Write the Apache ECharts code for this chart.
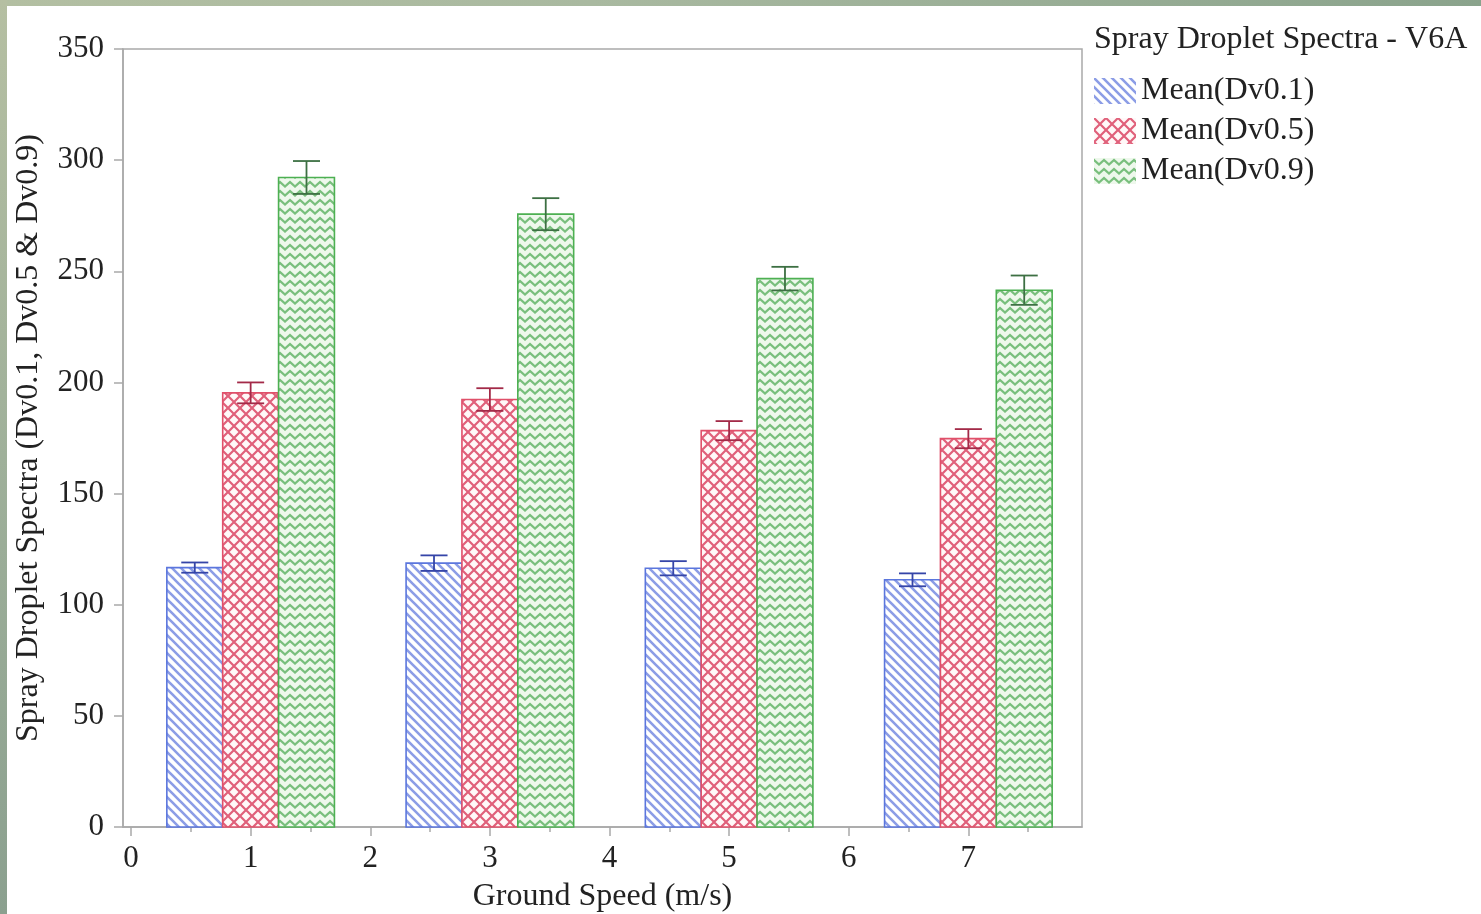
<!DOCTYPE html>
<html>
<head>
<meta charset="utf-8">
<script src="https://cdn.jsdelivr.net/npm/echarts@6/dist/echarts.min.js"></script>
<style>
html,body{margin:0;padding:0;width:1481px;height:914px;overflow:hidden;}
body{background:linear-gradient(90deg,#b3bfa2 0%,#a9b9a0 40%,#8aa38c 100%);}
#under{position:absolute;left:0;top:0;width:7px;height:914px;background:linear-gradient(180deg,#b5bfa2 0%,#9fb09a 50%,#8ba08f 100%);}
#paper{position:absolute;left:7px;top:6px;width:1474px;height:908px;background:#ffffff;}
#chart{position:absolute;left:0;top:0;width:1481px;height:914px;}
</style>
</head>
<body>
<div id="under"></div>
<div id="paper"></div>
<div id="chart"></div>
<script>
// ---- data ----
const speeds = [1, 3, 5, 7];
const seriesNames = ['Mean(Dv0.1)', 'Mean(Dv0.5)', 'Mean(Dv0.9)'];
const dv01 = [116.7, 118.7, 116.4, 111.2];
const dv05 = [195.3, 192.3, 178.3, 174.7];
const dv09 = [292.2, 275.7, 246.7, 241.5];
const dv01Err = [2.3, 3.5, 3.2, 2.9];
const dv05Err = [4.7, 5.1, 4.3, 4.3];
const dv09Err = [7.4, 7.2, 5.3, 6.6];
const xTickLabels = [0, 1, 2, 3, 4, 5, 6, 7];
const xMinorTicks = [0.5, 1.5, 2.5, 3.5, 4.5, 5.5, 6.5, 7.5];
const chartTitle = 'Spray Droplet Spectra - V6A';
const yName = 'Spray Droplet Spectra (Dv0.1, Dv0.5 & Dv0.9)';
const xName = 'Ground Speed (m/s)';

// ---- patterns ----
function makeStripes() {
  const s = 9, c = document.createElement('canvas'); c.width = s; c.height = s;
  const g = c.getContext('2d');
  g.fillStyle = '#ffffff'; g.fillRect(0, 0, s, s);
  g.strokeStyle = '#8c9de6'; g.lineWidth = 2.6;
  g.beginPath();
  g.moveTo(-2, -2); g.lineTo(s + 2, s + 2);
  g.moveTo(-2, s - 2); g.lineTo(2, s + 2);
  g.moveTo(s - 2, -2); g.lineTo(s + 2, 2);
  g.stroke();
  return c;
}
function makeCross() {
  const s = 12, c = document.createElement('canvas'); c.width = s; c.height = s;
  const g = c.getContext('2d');
  g.fillStyle = '#fff8f8'; g.fillRect(0, 0, s, s);
  g.strokeStyle = '#e0607a'; g.lineWidth = 2.2;
  g.beginPath();
  g.moveTo(-2, -2); g.lineTo(s + 2, s + 2);
  g.moveTo(s + 2, -2); g.lineTo(-2, s + 2);
  g.stroke();
  return c;
}
function makeZigzag() {
  const w = 10, h = 9, c = document.createElement('canvas'); c.width = w; c.height = h;
  const g = c.getContext('2d');
  g.fillStyle = '#eef8ec'; g.fillRect(0, 0, w, h);
  g.strokeStyle = '#79bf7d'; g.lineWidth = 2.3;
  g.beginPath();
  g.moveTo(-2.5, 4.5); g.lineTo(0, 2); g.lineTo(5, 6.5); g.lineTo(10, 2); g.lineTo(12.5, 4.5);
  g.stroke();
  return c;
}
const patterns = [
  { image: makeStripes(), repeat: 'repeat' },
  { image: makeCross(), repeat: 'repeat' },
  { image: makeZigzag(), repeat: 'repeat' }
];
const borderColors = ['#5b76dd', '#e0506a', '#4db052'];
const errColors = ['#3545a8', '#a32a48', '#3d7043'];
const offsets = [-0.467, 0, 0.467];
const barW = 0.467;
const capHalf = 0.113;

const values = [dv01, dv05, dv09];
const errs = [dv01Err, dv05Err, dv09Err];

function barRenderer(k) {
  return function (params, api) {
    const x = api.value(0) + offsets[k];
    const p1 = api.coord([x - barW / 2, api.value(1)]);
    const p2 = api.coord([x + barW / 2, 0]);
    return {
      type: 'rect',
      shape: { x: p1[0], y: p1[1], width: p2[0] - p1[0], height: p2[1] - p1[1] },
      style: { fill: patterns[k], stroke: borderColors[k], lineWidth: 1.6 }
    };
  };
}
function errRenderer(k) {
  return function (params, api) {
    const x = api.value(0) + offsets[k];
    const v = api.value(1), e = api.value(2);
    const top = api.coord([x, v + e]);
    const bot = api.coord([x, v - e]);
    const l = api.coord([x - capHalf, v])[0];
    const r = api.coord([x + capHalf, v])[0];
    const st = { stroke: errColors[k], lineWidth: 1.8 };
    return {
      type: 'group',
      children: [
        { type: 'line', shape: { x1: top[0], y1: top[1], x2: bot[0], y2: bot[1] }, style: st },
        { type: 'line', shape: { x1: l, y1: top[1], x2: r, y2: top[1] }, style: st },
        { type: 'line', shape: { x1: l, y1: bot[1], x2: r, y2: bot[1] }, style: st }
      ]
    };
  };
}

const series = [];
for (let k = 0; k < 3; k++) {
  series.push({
    type: 'custom', name: seriesNames[k], xAxisIndex: 0, yAxisIndex: 0,
    renderItem: barRenderer(k),
    itemStyle: { color: patterns[k] },
    encode: { x: 0, y: 1 },
    data: speeds.map((s, i) => [s, values[k][i]]),
    z: 2
  });
}
for (let k = 0; k < 3; k++) {
  series.push({
    type: 'custom', name: seriesNames[k] + ' err', xAxisIndex: 0, yAxisIndex: 0,
    renderItem: errRenderer(k),
    encode: { x: 0, y: 1 },
    data: speeds.map((s, i) => [s, values[k][i], errs[k][i]]),
    z: 3
  });
}

const font = 'Liberation Serif';
const axisGray = '#a9a9a9';
const chart = echarts.init(document.getElementById('chart'));
chart.setOption({
  backgroundColor: 'transparent',
  animation: false,
  title: {
    text: chartTitle, left: 1094, top: 24, padding: 0,
    textStyle: { fontFamily: font, fontSize: 32, fontWeight: 'normal', color: '#222' }
  },
  legend: {
    orient: 'vertical', left: 1094, top: 75, padding: 0,
    data: seriesNames, icon: 'rect', itemWidth: 42, itemHeight: 26, itemGap: 8,
    textStyle: { fontFamily: font, fontSize: 32, color: '#222', lineHeight: 32 }
  },
  grid: {
    left: 123, right: 399, top: 49, bottom: 87, containLabel: false, outerBoundsMode: 'none',
    show: true, borderColor: axisGray, borderWidth: 1.5, backgroundColor: 'transparent'
  },
  xAxis: [{
    type: 'value', min: -0.067, max: 7.95,
    name: xName, nameLocation: 'middle', nameGap: 54,
    nameTextStyle: { fontFamily: font, fontSize: 32, color: '#222' },
    axisLine: { show: true, onZero: false, lineStyle: { color: axisGray, width: 1.5 } },
    axisTick: { show: true, length: 9, customValues: xTickLabels, lineStyle: { color: axisGray, width: 1.5 } },
    axisLabel: { customValues: xTickLabels, fontFamily: font, fontSize: 31, color: '#222', margin: 16 },
    splitLine: { show: false }
  }, {
    type: 'value', min: -0.067, max: 7.95, position: 'bottom',
    axisLine: { show: false, onZero: false },
    axisTick: { show: true, length: 5, customValues: xMinorTicks, lineStyle: { color: axisGray, width: 1.5 } },
    axisLabel: { show: false },
    splitLine: { show: false }
  }],
  yAxis: {
    type: 'value', min: 0, max: 350, interval: 50,
    name: yName, nameLocation: 'middle', nameGap: 78,
    nameTextStyle: { fontFamily: font, fontSize: 32, color: '#222' },
    axisLine: { show: true, onZero: false, lineStyle: { color: axisGray, width: 1.5 } },
    axisTick: { show: true, length: 9, lineStyle: { color: axisGray, width: 1.5 } },
    axisLabel: { fontFamily: font, fontSize: 31, color: '#222', margin: 19 },
    splitLine: { show: false }
  },
  series: series
});
</script>
</body>
</html>
